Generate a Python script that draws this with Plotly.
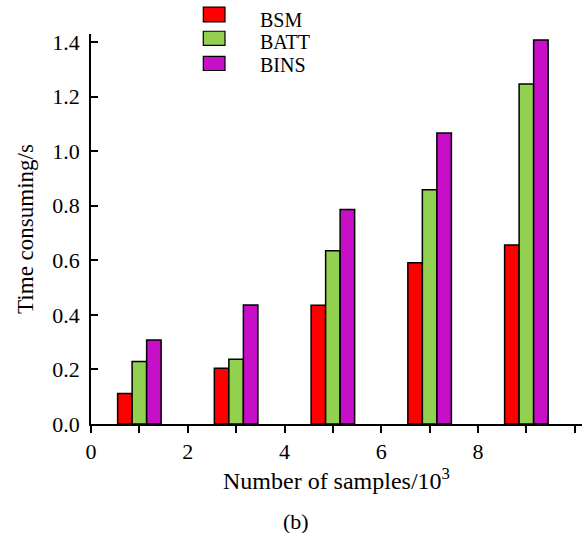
import plotly.graph_objects as go

samples = [1, 3, 5, 7, 9]
bsm = [0.112, 0.204, 0.435, 0.591, 0.656]
batt = [0.229, 0.237, 0.635, 0.858, 1.246]
bins = [0.308, 0.436, 0.786, 1.066, 1.407]
series_names = ["BSM", "BATT", "BINS"]
colors = ["#FF0000", "#92D050", "#C60FC6"]
x_tickvals = [0, 2, 4, 6, 8]
x_ticktext = ["0", "2", "4", "6", "8"]

FONT = "Liberation Serif, Times New Roman, serif"

fig = go.Figure()
for name, vals, col in zip(series_names, [bsm, batt, bins], colors):
    fig.add_trace(go.Bar(
        x=samples, y=vals, name=name, showlegend=False,
        marker=dict(color=col, line=dict(color="black", width=1.5)),
    ))

# manual legend (box + label), laid out in paper coordinates
box_rows = [(1.0688, 1.0309), (1.0070, 0.9709), (0.9425, 0.9064)]
text_rows = [1.037, 0.979, 0.921]
shapes = []
annotations = []
for name, col, (ytop, ybot), ty in zip(series_names, colors, box_rows, text_rows):
    shapes.append(dict(type="rect", xref="paper", yref="paper",
                       x0=0.2287, x1=0.2729, y0=ybot, y1=ytop,
                       fillcolor=col, line=dict(color="black", width=1.2)))
    annotations.append(dict(text=name, x=0.340, y=ty, xref="paper", yref="paper",
                            xanchor="left", yanchor="middle", showarrow=False,
                            font=dict(family=FONT, size=20, color="black")))

annotations.append(dict(text="(b)", x=0.418, y=-0.25, xref="paper", yref="paper",
                        showarrow=False, xanchor="center", yanchor="middle",
                        font=dict(family=FONT, size=22, color="black")))

fig.update_layout(
    width=584, height=533,
    margin=dict(l=91, r=2, t=34, b=109, autoexpand=False),
    paper_bgcolor="white", plot_bgcolor="white",
    barmode="group", bargap=0.55, bargroupgap=0,
    font=dict(family=FONT, size=22, color="black"),
    showlegend=False,
    xaxis=dict(range=[0, 10.15], tickvals=x_tickvals, ticktext=x_ticktext,
               ticks="outside", ticklen=7, tickwidth=1.5, tickcolor="black",
               minor=dict(dtick=1, tick0=0, ticks="outside", ticklen=7,
                          tickwidth=1.5, tickcolor="black", showgrid=False),
               showline=True, linecolor="black", linewidth=1.5,
               showgrid=False, zeroline=False,
               tickfont=dict(family=FONT, size=22),
               title=dict(text="Number of samples/10<sup>3</sup>", standoff=0,
                          font=dict(family=FONT, size=24))),
    yaxis=dict(range=[0, 1.429], dtick=0.2, tickformat=".1f",
               ticks="inside", ticklen=7, tickwidth=1.5, tickcolor="black",
               ticklabelstandoff=5,
               showline=True, linecolor="black", linewidth=1.5,
               showgrid=False, zeroline=False,
               tickfont=dict(family=FONT, size=22),
               title=dict(text="Time consuming/s", standoff=12,
                          font=dict(family=FONT, size=23))),
    shapes=shapes,
    annotations=annotations,
)

fig.write_html("out.html", config={"displayModeBar": False},
               post_script="document.body.style.margin='0';")
